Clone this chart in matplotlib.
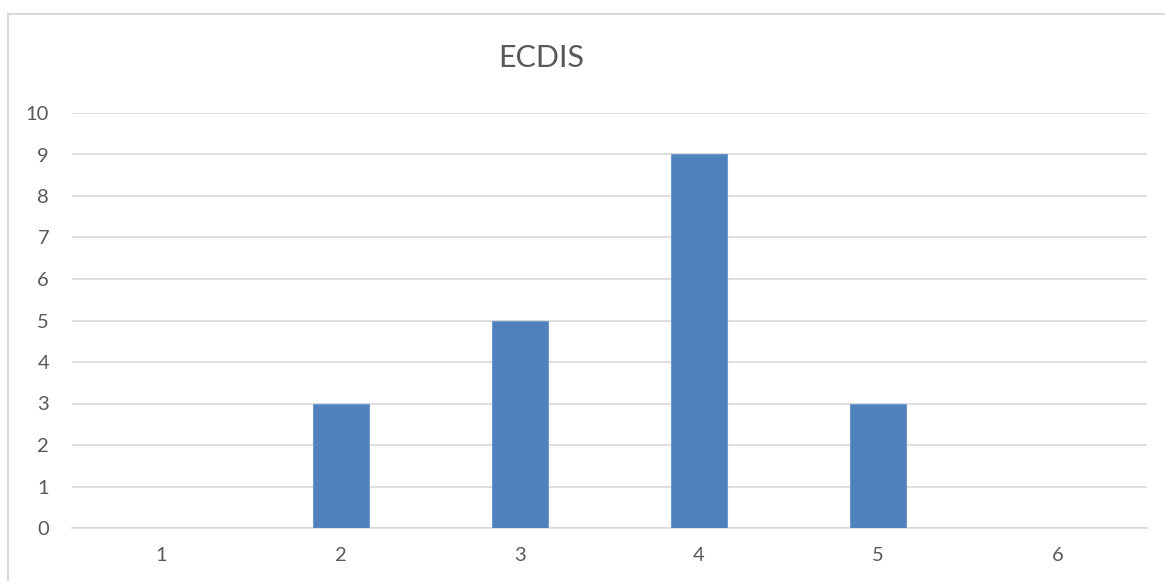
import matplotlib
matplotlib.use('Agg')
import matplotlib.pyplot as plt
from matplotlib.patches import Rectangle

categories = ['1', '2', '3', '4', '5', '6']
values = [0, 3, 5, 9, 3, 0]
yticks = list(range(0, 11))

plt.rcParams['font.family'] = ['Lato', 'DejaVu Sans']

W, H = 1165, 581
fig = plt.figure(figsize=(W / 100, H / 100), dpi=100)

# outer chart frame (runs off the right and bottom edges)
fig.patches.append(Rectangle((8 / W, -0.05), 1.1, 1 - 14 / H + 0.05,
                             transform=fig.transFigure, fill=False,
                             edgecolor='#D9D9D9', linewidth=1.5))

ax = fig.add_axes([72 / W, 1 - 528 / H, (1147 - 72) / W, (528 - 113) / H])
x = range(1, len(categories) + 1)
ax.bar(x, values, width=0.3125, color='#4F81BD', edgecolor='#6F97C9',
       linewidth=0.8, zorder=3)

ax.set_xlim(0.5, len(categories) + 0.5)
ax.set_ylim(0, 10)
ax.set_yticks(yticks)
ax.set_xticks(list(x))
ax.set_xticklabels(categories)
ax.grid(axis='y', color='#D9D9D9', linewidth=1.2, zorder=0)
ax.tick_params(length=0, labelsize=14.5, colors='#595959')
ax.tick_params(axis='y', pad=16.5)
ax.tick_params(axis='x', pad=14)
for side in ['top', 'right', 'left']:
    ax.spines[side].set_visible(False)
ax.spines['bottom'].set_color('#D9D9D9')
ax.spines['bottom'].set_linewidth(1.2)

fig.text(541 / W, 1 - 58 / H, 'ECDIS', ha='center', va='center',
         fontsize=22, color='#595959')

fig.savefig('out.png', dpi=100)
